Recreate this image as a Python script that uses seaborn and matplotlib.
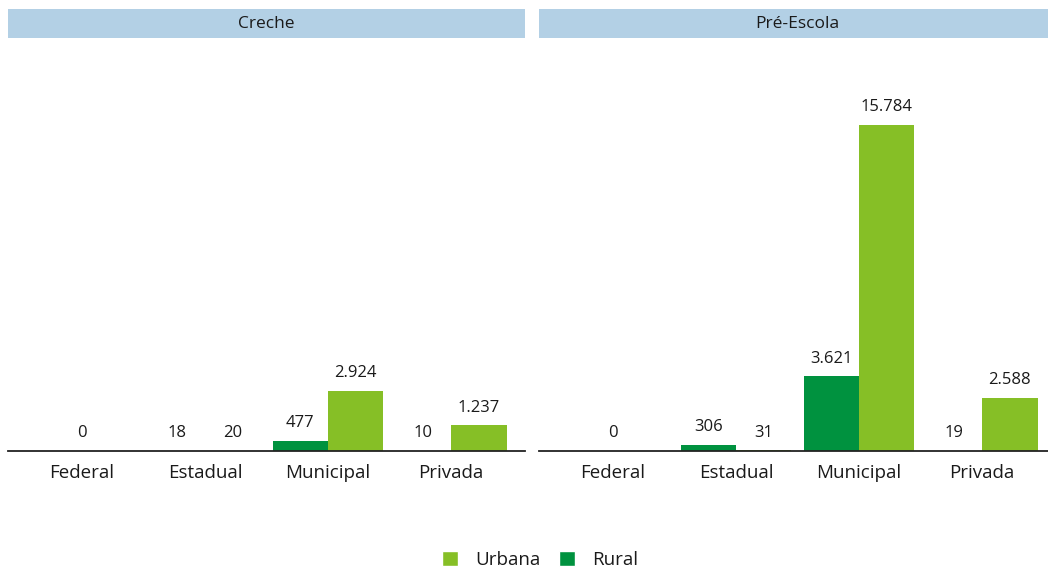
import numpy as np
import pandas as pd
import matplotlib
matplotlib.use('Agg')
from matplotlib import pyplot as plt
from matplotlib.patches import Patch
import seaborn as sns

# data
dependencias = ['Federal', 'Estadual', 'Municipal', 'Privada']
etapas = ['Creche', 'Pré-Escola']
creche_rural = [np.nan, 18, 477, 10]
creche_urbana = [0, 20, 2924, 1237]
pre_rural = [np.nan, 306, 3621, 19]
pre_urbana = [0, 31, 15784, 2588]

COR_URBANA = '#86bf26'
COR_RURAL = '#00923f'
COR_STRIP = '#b3d0e5'
COR_TEXTO = '#1a1a1a'

rows = []
for etapa, rur, urb in zip(etapas, [creche_rural, pre_rural], [creche_urbana, pre_urbana]):
    for dep, r, u in zip(dependencias, rur, urb):
        solo = bool(np.isnan(r))
        if not solo:
            rows.append({'etapa': etapa, 'dependencia': dep, 'localizacao': 'Rural', 'valor': r, 'solo': False})
        rows.append({'etapa': etapa, 'dependencia': dep, 'localizacao': 'Urbana', 'valor': u, 'solo': solo})
df = pd.DataFrame(rows)

sns.set_theme(style='white')
plt.rcParams['font.family'] = ['Open Sans', 'DejaVu Sans']
plt.rcParams['text.color'] = COR_TEXTO


def fmt_br(v):
    return f'{v:,.0f}'.replace(',', '.')


fig = plt.figure(figsize=(10.48, 5.69), dpi=100)
W, H = 1048, 569
ax_w = 517 / W
ax_bottom = 1 - 451 / H
ax_h = (451 - 38) / H
strip_h = 29 / H
lefts = [8 / W, 539 / W]

for etapa, left in zip(etapas, lefts):
    ax = fig.add_axes([left, ax_bottom, ax_w, ax_h])
    sub = df[df['etapa'] == etapa]
    solo = sub[sub['solo']]
    dupla = sub[~sub['solo']]
    sns.barplot(data=solo, x='dependencia', y='valor', order=dependencias,
                color=COR_URBANA, width=0.9, errorbar=None, saturation=1,
                linewidth=0, ax=ax)
    sns.barplot(data=dupla, x='dependencia', y='valor', hue='localizacao', order=dependencias,
                hue_order=['Rural', 'Urbana'], palette={'Rural': COR_RURAL, 'Urbana': COR_URBANA},
                width=0.9, errorbar=None, saturation=1, linewidth=0, legend=False, ax=ax)
    for cont in ax.containers:
        ax.bar_label(cont, labels=[fmt_br(v) for v in cont.datavalues], padding=7,
                     fontsize=12, color=COR_TEXTO)
    ax.set_xlim(-0.6, 3.6)
    ax.set_ylim(0, 20000)
    ax.set_xlabel('')
    ax.set_ylabel('')
    ax.set_yticks([])
    ax.tick_params(axis='x', length=0, pad=9, labelsize=13.5, labelcolor=COR_TEXTO)
    for s in ['top', 'left', 'right']:
        ax.spines[s].set_visible(False)
    ax.spines['bottom'].set_color('#222222')
    ax.spines['bottom'].set_linewidth(1.3)

    # facet strip
    sax = fig.add_axes([left, 1 - 38 / H, ax_w, strip_h])
    sax.set_facecolor(COR_STRIP)
    sax.set_xticks([])
    sax.set_yticks([])
    for s in sax.spines.values():
        s.set_visible(False)
    sax.text(0.5, 0.48, etapa, ha='center', va='center', fontsize=12.5,
             color=COR_TEXTO, transform=sax.transAxes)

handles = [Patch(facecolor=COR_URBANA, label='Urbana'), Patch(facecolor=COR_RURAL, label='Rural')]
fig.legend(handles=handles, loc='center', bbox_to_anchor=(540 / W, 1 - 560 / H), ncol=2,
           frameon=False, fontsize=13.5, handlelength=0.85, handleheight=0.85,
           handletextpad=0.9, columnspacing=1.0)

fig.savefig('out.png', dpi=100)
